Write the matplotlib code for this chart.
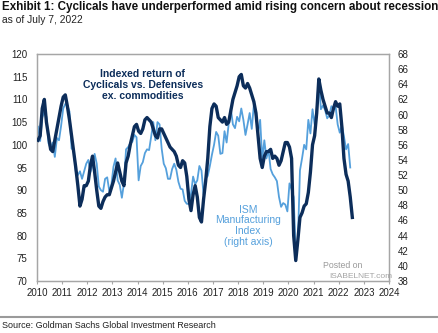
#!/usr/bin/env python

import matplotlib.pyplot as plt
import numpy as np

plt.rcParams['font.family'] = ['Liberation Sans', 'DejaVu Sans']

# Indexed return of Cyclicals vs. Defensives ex. commodities (monthly, Jan 2010 - Jul 2022)
cyc_vs_def = [
    101, 102, 108, 110, 105, 102, 99, 98.5, 101, 103.5, 106, 108.5,        # 2010
    110.5, 111, 108.5, 105.5, 102, 98.5, 95, 91, 86.5, 88, 91, 91,        # 2011
    92, 95.5, 97.5, 94, 90, 86.5, 86, 87.5, 88.5, 89, 89, 90.5,           # 2012
    92, 94, 96, 94, 92, 91, 96, 97.5, 100, 102, 104, 104.5,               # 2013
    103, 102.5, 103.5, 105.5, 106, 105.5, 105, 103.5, 102, 101.5, 103.5, 103.5,  # 2014
    102.5, 101.5, 100.5, 99.5, 99, 98.5, 97.5, 95.5, 95, 96.5, 96, 93,    # 2015
    88, 85.5, 89, 91, 88.5, 84, 83, 88, 92, 97, 104, 108,                 # 2016
    109, 108.5, 106, 105.5, 105, 106, 104.5, 105, 107.5, 110, 111.5, 113, # 2017
    115, 115.5, 113, 112.5, 113.5, 112.5, 111, 109.5, 107, 102, 97, 95,   # 2018
    97.5, 98.5, 98.5, 99, 97, 97.5, 97, 95.5, 96.5, 98.5, 100.5, 100.5,   # 2019
    99.5, 97, 80, 74.5, 79, 84, 85, 86.5, 87, 89.5, 94, 100,              # 2020
    102, 107, 114.5, 112, 110, 108.5, 107, 107, 106, 108, 109.5, 108.5,   # 2021
    109, 104, 97, 93.5, 92, 88.5, 84,                                     # 2022
]

# ISM Manufacturing Index (monthly, Jan 2010 - Jun 2022)
ism = [
    58.4, 56.5, 59.6, 60.4, 59.7, 56.2, 55.5, 56.3, 54.4, 56.9, 56.6, 58.5,  # 2010
    60.8, 61.4, 61.2, 60.4, 55.5, 55.3, 52.5, 52.0, 52.5, 51.5, 52.5, 53.5,  # 2011
    54.0, 52.4, 53.4, 54.8, 53.5, 50.5, 50.0, 49.8, 51.5, 51.7, 49.9, 50.7,  # 2012
    53.1, 54.2, 51.3, 50.7, 49.0, 50.9, 55.4, 55.7, 56.2, 56.4, 57.3, 57.0,  # 2013
    51.3, 53.2, 53.7, 54.9, 55.4, 55.3, 57.1, 59.0, 56.6, 59.0, 58.7, 55.5,  # 2014
    53.5, 52.9, 51.5, 51.5, 52.8, 53.5, 52.7, 51.1, 50.2, 50.1, 48.6, 48.2,  # 2015
    48.2, 49.5, 51.8, 50.8, 51.3, 53.2, 52.6, 49.4, 51.5, 51.9, 53.2, 54.7,  # 2016
    56.0, 57.7, 57.2, 54.8, 54.9, 57.8, 56.3, 58.8, 60.8, 58.7, 58.2, 59.7,  # 2017
    59.1, 60.8, 59.3, 57.3, 58.7, 60.2, 58.1, 61.3, 59.8, 57.7, 59.3, 54.1,  # 2018
    56.6, 54.2, 55.3, 52.8, 52.1, 51.7, 51.2, 49.1, 47.8, 48.3, 48.1, 47.2,  # 2019
    50.9, 50.1, 49.1, 41.5, 43.1, 52.6, 54.2, 56.0, 55.4, 59.3, 57.5, 60.7,  # 2020
    58.7, 60.8, 64.7, 60.7, 61.2, 60.6, 59.5, 59.9, 61.1, 60.8, 61.1, 58.7,  # 2021
    57.6, 58.6, 57.1, 55.4, 56.1, 53.0,                                      # 2022
]

years = list(range(2010, 2025))
left_ticks = list(range(70, 121, 5))
right_ticks = list(range(38, 69, 2))

navy = "#0c2d5a"
light_blue = "#55a0dc"
frame_gray = "#a6a6a6"

# Mid-month positions in fractional years
x_cyc = 2010 + (np.arange(len(cyc_vs_def)) + 0.5) / 12
x_ism = 2010 + (np.arange(len(ism)) + 0.5) / 12

fig = plt.figure(figsize=(4.38, 3.33), dpi=100)
ax = fig.add_axes([37 / 438, 1 - 281 / 333, (389 - 37) / 438, (281 - 54) / 333])
ax2 = ax.twinx()

ax.plot(x_cyc, cyc_vs_def, color=navy, lw=2.4, zorder=3)
ax2.plot(x_ism, ism, color=light_blue, lw=1.3, zorder=2)
ax.set_zorder(ax2.get_zorder() + 1)
ax.patch.set_visible(False)

ax.set_xlim(2010, 2024)
ax.set_ylim(70, 120)
ax2.set_ylim(38, 68)
ax.set_xticks(years)
ax.set_yticks(left_ticks)
ax2.set_yticks(right_ticks)

for a in (ax, ax2):
    for s in a.spines.values():
        s.set_color(frame_gray)
        s.set_linewidth(0.9)
ax.tick_params(axis="x", labelsize=7, colors="#222222", length=2.5, width=0.8,
               direction="out", color=frame_gray, pad=2.5)
ax.tick_params(axis="y", labelsize=7, colors="#222222", length=0, pad=7)
ax2.tick_params(axis="y", labelsize=7, colors="#222222", length=0, pad=6)

# Series labels
ax.text(2014.2, 116.6, "Indexed return of\nCyclicals vs. Defensives\nex. commodities",
        ha="center", va="top", fontsize=7.5, fontweight="bold", color=navy,
        linespacing=1.12)
ax.text(2018.4, 86.8, "ISM\nManufacturing\nIndex\n(right axis)",
        ha="center", va="top", fontsize=7.5, color=light_blue, linespacing=1.08)

# Watermark
ax.text(2022.15, 73.5, "Posted on", ha="center", va="center", fontsize=6.3,
        color="#9a9a9a")
fig.text(329 / 438, 1 - 276 / 333, "ISABELNET.com", ha="left", va="center",
         fontsize=6.0, color="#9a9a9a", alpha=0.9)

# Header and footer
fig.text(0.004, 1 - 7 / 333, "Exhibit 1: Cyclicals have underperformed amid rising concern about recession",
         ha="left", va="center", fontsize=8.4, fontweight="bold", color="#111111")
fig.text(0.004, 1 - 20 / 333, "as of July 7, 2022", ha="left", va="center",
         fontsize=7.4, color="#222222")
fig.add_artist(plt.Line2D([0, 1], [1 - 317 / 333, 1 - 317 / 333], color="#9a9a9a",
                          lw=1.5, transform=fig.transFigure))
fig.text(0.004, 1 - 326 / 333, "Source: Goldman Sachs Global Investment Research",
         ha="left", va="center", fontsize=6.5, color="#222222")

fig.savefig("out.png", dpi=100)
